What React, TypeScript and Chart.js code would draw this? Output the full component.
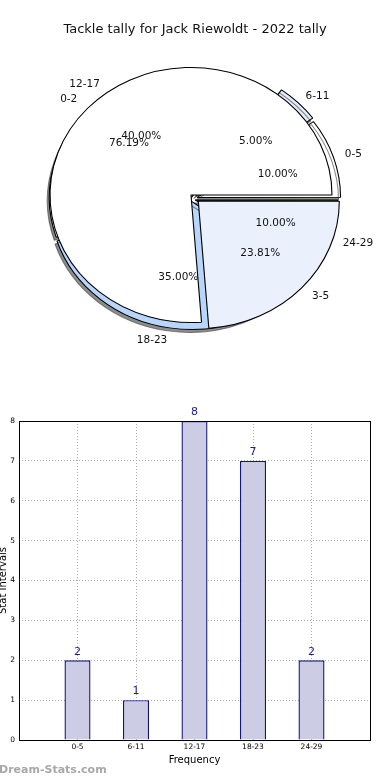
import React, { useEffect, useRef } from 'react';
import { Chart, registerables } from 'chart.js';

Chart.register(...registerables);

const chartTitle = 'Tackle tally for Jack Riewoldt - 2022 tally';

// first pie: tally bins
const tallyLabels = ['0-5', '6-11', '12-17', '18-23', '24-29'];
const tallyCounts = [2, 1, 8, 7, 2];
const tallyExplode = [5, 5, 1.5, 2.5, 3];
const tallyColors = ['#ffffff', '#e4ecfa', '#ffffff', '#b8d5fb', '#7b8a5e'];

// second pie: split
const splitLabels = ['0-2', '3-5'];
const splitCounts = [16, 5];
const splitExplode = [0, 9];
const splitColors = ['#ffffff', '#eaf0fc'];

// bar chart
const barCategories = ['0-5', '6-11', '12-17', '18-23', '24-29'];
const barValues = [2, 1, 8, 7, 2];
const yTickValues = [0, 1, 2, 3, 4, 5, 6, 7, 8];

const FONT = "'DejaVu Sans', sans-serif";
const PIE_RADIUS = 127.5;
const X_STRETCH = 141 / 127.5;

function rev(a: any[]) {
  return a.slice().reverse();
}

function stretchPlugin(shadow: boolean) {
  return {
    id: 'stretch',
    beforeDatasetsDraw(chart: any) {
      const a = chart.getDatasetMeta(0).data[0];
      const ctx = chart.ctx;
      ctx.save();
      ctx.translate(a.x, a.y);
      ctx.scale(X_STRETCH, 1);
      ctx.translate(-a.x, -a.y);
      if (shadow) {
        ctx.shadowColor = 'rgba(0,0,0,0.45)';
        ctx.shadowOffsetX = -2;
        ctx.shadowOffsetY = 3;
        ctx.shadowBlur = 0.5;
      }
    },
    afterDatasetsDraw(chart: any) {
      chart.ctx.restore();
    },
  };
}

function pieTextPlugin(getOthers: () => any[]) {
  return {
    id: 'pieText',
    afterDraw(chart: any) {
      const ctx = chart.ctx;
      ctx.save();
      ctx.fillStyle = '#111';
      ctx.textBaseline = 'middle';
      ctx.textAlign = 'center';
      ctx.font = `13px ${FONT}`;
      ctx.fillText(chartTitle, chart.width / 2, 30);
      ctx.font = `10.5px ${FONT}`;
      const charts = [...getOthers(), chart];
      for (const c of charts) {
        const meta = c.getDatasetMeta(0);
        const labels = c.data.labels;
        const data = c.data.datasets[0].data as number[];
        const total = data.reduce((s, v) => s + v, 0);
        meta.data.forEach((arc: any, i: number) => {
          const mid = (arc.startAngle + arc.endAngle) / 2;
          const off = (arc.options.offset || 0) / 4;
          const cos = Math.cos(mid);
          const sin = Math.sin(mid);
          const cx = arc.x + cos * off * X_STRETCH;
          const cy = arc.y + sin * off;
          const R = arc.outerRadius;
          ctx.textAlign = cos >= 0 ? 'left' : 'right';
          ctx.fillText(labels[i], cx + cos * R * 1.1 * X_STRETCH, cy + sin * R * 1.1);
          ctx.textAlign = 'center';
          const pct = ((data[i] / total) * 100).toFixed(2) + '%';
          ctx.fillText(pct, cx + cos * R * 0.6 * X_STRETCH, cy + sin * R * 0.6);
        });
      }
      ctx.restore();
    },
  };
}

function pieConfig(
  labels: string[],
  counts: number[],
  explode: number[],
  colors: string[],
  padding: any,
  shadow: boolean,
  extra: any[]
): any {
  return {
    type: 'pie',
    data: {
      labels: rev(labels),
      datasets: [
        {
          data: rev(counts),
          backgroundColor: rev(colors),
          borderColor: '#000',
          borderWidth: 1,
          offset: rev(explode).map((e: number) => e * 4),
          clip: false,
        },
      ],
    },
    options: {
      animation: false,
      responsive: false,
      devicePixelRatio: 1,
      events: [],
      rotation: 90,
      radius: PIE_RADIUS,
      layout: { padding },
      plugins: {
        legend: { display: false },
        tooltip: { enabled: false },
        title: { display: false },
      },
    },
    plugins: [stretchPlugin(shadow), ...extra],
  };
}

const barExtras = {
  id: 'barExtras',
  afterDraw(chart: any) {
    const { ctx, chartArea: a } = chart;
    ctx.save();
    ctx.strokeStyle = '#000';
    ctx.lineWidth = 1;
    const l = Math.round(a.left) + 0.5;
    const t = Math.round(a.top) + 0.5;
    const r = Math.round(a.right) + 0.5;
    const b = Math.round(a.bottom) + 0.5;
    ctx.strokeRect(l, t, r - l, b - t);
    const meta = chart.getDatasetMeta(0);
    const data = chart.data.datasets[0].data;
    ctx.fillStyle = '#1c1c8c';
    ctx.font = `11px ${FONT}`;
    ctx.textAlign = 'center';
    ctx.textBaseline = 'bottom';
    meta.data.forEach((bar: any, i: number) => {
      const v = data[i];
      if (v == null) return;
      ctx.fillText(String(v), bar.x, bar.y - 3);
    });
    ctx.fillStyle = '#a8a8a8';
    ctx.font = `bold 11px ${FONT}`;
    ctx.textAlign = 'left';
    ctx.textBaseline = 'middle';
    ctx.fillText('Dream-Stats.com', -1, chart.height - 10);
    ctx.restore();
  },
};

export default function App() {
  const pie1Ref = useRef<HTMLCanvasElement>(null);
  const pie2Ref = useRef<HTMLCanvasElement>(null);
  const barRef = useRef<HTMLCanvasElement>(null);

  useEffect(() => {
    const c1 = new Chart(
      pie1Ref.current as HTMLCanvasElement,
      pieConfig(tallyLabels, tallyCounts, tallyExplode, tallyColors, { left: 0, right: 6, top: 8, bottom: 0 }, true, [])
    );
    const c2 = new Chart(
      pie2Ref.current as HTMLCanvasElement,
      pieConfig(splitLabels, splitCounts, splitExplode, splitColors, { left: 0, right: 8, top: 0, bottom: 0 }, false, [
        pieTextPlugin(() => [c1]),
      ])
    );

    const gridColor = '#ababab';
    const c3 = new Chart(barRef.current as HTMLCanvasElement, {
      type: 'bar',
      data: {
        labels: ['', ...barCategories, ''],
        datasets: [
          {
            data: [null, ...barValues, null],
            backgroundColor: '#ccccE4',
            borderColor: '#14147f',
            borderWidth: 1.4,
            barPercentage: 0.445,
            categoryPercentage: 1,
          },
        ],
      },
      options: {
        animation: false,
        responsive: false,
        devicePixelRatio: 1,
        events: [],
        layout: { padding: { top: 31, right: 20, left: 0, bottom: 0 } },
        plugins: {
          legend: { display: false },
          tooltip: { enabled: false },
        },
        scales: {
          x: {
            offset: false,
            z: 1,
            grid: { color: gridColor, lineWidth: 1, drawTicks: false, offset: false },
            border: { display: false, dash: [1, 2] },
            ticks: {
              autoSkip: false,
              maxRotation: 0,
              minRotation: 0,
              padding: 3,
              color: '#000',
              font: { family: FONT, size: 7.5 },
            },
            title: {
              display: true,
              text: 'Frequency',
              color: '#000',
              font: { family: FONT, size: 10 },
              padding: { top: 0, bottom: 14 },
            },
            afterFit: (s: any) => {
              s.height = 40;
            },
          },
          y: {
            min: 0,
            max: 8,
            z: 1,
            grid: { color: gridColor, lineWidth: 1, drawTicks: false },
            border: { display: false, dash: [1, 2] },
            afterBuildTicks: (s: any) => {
              s.ticks = yTickValues.map((v) => ({ value: v }));
            },
            ticks: {
              padding: 4,
              color: '#000',
              font: { family: FONT, size: 7.5 },
            },
            title: {
              display: true,
              text: 'Stat Intervals',
              color: '#000',
              font: { family: FONT, size: 10 },
              padding: { top: -3, bottom: 0 },
            },
            afterFit: (s: any) => {
              s.width = 19;
            },
          },
        },
      } as any,
      plugins: [barExtras],
    } as any);

    return () => {
      c1.destroy();
      c2.destroy();
      c3.destroy();
    };
  }, []);

  const canvasStyle = (top: number): React.CSSProperties => ({
    position: 'absolute',
    left: 0,
    top,
    width: 390,
    height: 390,
    display: 'block',
  });

  return (
    <div style={{ position: 'absolute', left: 0, top: 0, width: 390, height: 780, background: '#fff', overflow: 'hidden' }}>
      <canvas ref={pie1Ref} width={390} height={390} style={canvasStyle(0)} />
      <canvas ref={pie2Ref} width={390} height={390} style={canvasStyle(0)} />
      <canvas ref={barRef} width={390} height={390} style={canvasStyle(390)} />
    </div>
  );
}
